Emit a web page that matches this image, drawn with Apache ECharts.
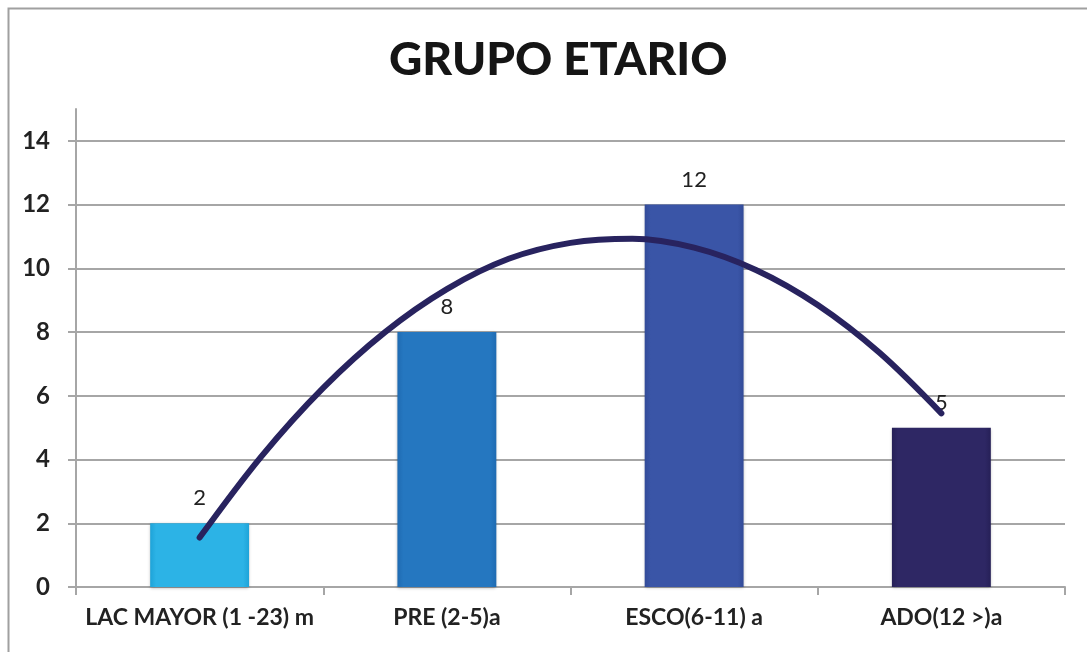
<!DOCTYPE html>
<html>
<head>
<meta charset="utf-8">
<script src="https://cdn.jsdelivr.net/npm/echarts@6/dist/echarts.min.js"></script>
<style>
html,body{margin:0;padding:0;background:#fff;}
#chart{width:1087px;height:652px;}
</style>
</head>
<body>
<div id="chart"></div>
<script>
var titleText = 'GRUPO ETARIO';
var categories = ['LAC MAYOR (1 -23) m', 'PRE (2-5)a', 'ESCO(6-11) a', 'ADO(12 >)a'];
var values = [2, 8, 12, 5];
var barColors = ['#2cb3e6', '#2577c0', '#3a55a7', '#2e2764'];
var barEdgeColors = ['#1ea3d8', '#1f6bb2', '#324b98', '#262057'];
var yTicks = [0, 2, 4, 6, 8, 10, 12, 14];
// trend curve: [category position (1..4), value]
var trendX = [1, 1.25, 1.5, 1.75, 2, 2.25, 2.5, 2.75, 3, 3.25, 3.5, 3.75, 4];
var trendY = [1.55, 4.1, 6.25, 8.0, 9.35, 10.3, 10.8, 10.93, 10.65, 9.95, 8.85, 7.35, 5.45];

var chart = echarts.init(document.getElementById('chart'));
var lblFont = 'Lato, "Open Sans", sans-serif';
var option = {
  backgroundColor: '#fff',
  animation: false,
  title: {
    text: titleText, left: 384, top: 32,
    textStyle: {fontFamily: 'Lato, sans-serif', fontWeight: 900, fontSize: 46, color: '#151515'}
  },
  graphic: [{
    type: 'rect', left: 6, top: 6, z: -1, silent: true,
    shape: {width: 1120, height: 700},
    style: {fill: 'none', stroke: '#a0a0a0', lineWidth: 2}
  }],
  grid: {left: 76, right: 22, top: 109, bottom: 65, containLabel: false},
  xAxis: [{
    type: 'category', data: categories, boundaryGap: true,
    axisLine: {lineStyle: {color: '#a6a6a6', width: 2}},
    axisTick: {show: true, interval: 0, alignWithLabel: false, length: 8, lineStyle: {color: '#a6a6a6', width: 2}},
    axisLabel: {interval: 0, margin: 19, fontFamily: lblFont, fontWeight: 'bold', fontSize: 23, color: '#222'}
  }, {
    type: 'value', min: 0.5, max: 4.5, show: false
  }],
  yAxis: {
    type: 'value', min: 0, max: 15, interval: 1,
    axisLine: {show: true, lineStyle: {color: '#a6a6a6', width: 2}},
    axisTick: {show: true, length: 8, customValues: yTicks, lineStyle: {color: '#a6a6a6', width: 2}},
    axisLabel: {customValues: yTicks, margin: 26, fontFamily: lblFont, fontWeight: 'bold', fontSize: 24, color: '#222'},
    splitLine: {show: true, customValues: yTicks, lineStyle: {color: '#a6a6a6', width: 2}}
  },
  series: [{
    type: 'bar', xAxisIndex: 0, barWidth: '40%',
    data: values.map(function (v, i) {
      return {
        value: v,
        itemStyle: {
          color: new echarts.graphic.LinearGradient(0, 0, 1, 0, [
            {offset: 0, color: barEdgeColors[i]},
            {offset: 0.06, color: barColors[i]},
            {offset: 0.94, color: barColors[i]},
            {offset: 1, color: barEdgeColors[i]}
          ]),
          shadowColor: 'rgba(0,0,0,0.3)', shadowBlur: 3, shadowOffsetY: 1
        }
      };
    }),
    label: {show: true, position: 'top', distance: 14, fontFamily: lblFont, fontSize: 22, color: '#222'}
  }, {
    type: 'line', xAxisIndex: 1, smooth: 0.35, symbol: 'none',
    data: trendX.map(function (x, i) { return [x, trendY[i]]; }),
    lineStyle: {color: '#28235f', width: 6, cap: 'round'},
    z: 5
  }]
};
chart.setOption(option);
</script>
</body>
</html>
